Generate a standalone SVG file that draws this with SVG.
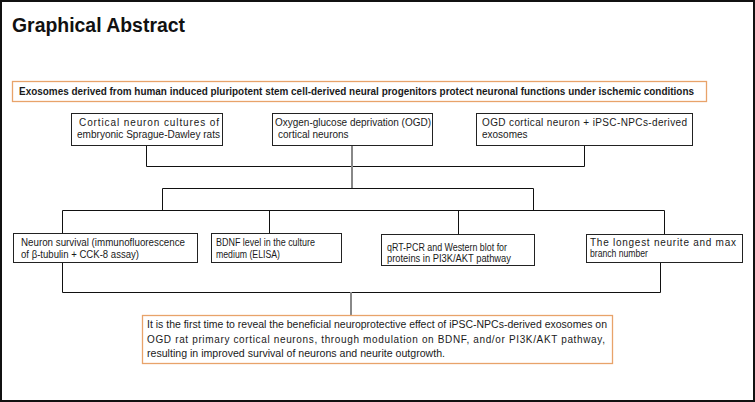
<svg xmlns="http://www.w3.org/2000/svg" width="755" height="402" viewBox="0 0 755 402">
<style>
.t{font-family:"Liberation Sans",Arial,sans-serif;font-size:10px;fill:#1a1a1a}
.b{fill:#fff;stroke:#222;stroke-width:1}
.o{fill:#fff;stroke:#e8a36a;stroke-width:1.3}
.c{fill:none;stroke:#111;stroke-width:1}
.g{fill:none;stroke:#888;stroke-width:2}
</style>
<rect x="1" y="1" width="753" height="400" fill="#fff" stroke="#111" stroke-width="2"/>
<text x="12" y="32" font-family="'Liberation Sans',Arial,sans-serif" font-size="20" font-weight="bold" fill="#111" textLength="173" lengthAdjust="spacingAndGlyphs">Graphical Abstract</text>
<g id="header">
<rect class="o" x="12.5" y="81.5" width="694" height="20"/>
<text class="t" x="19" y="95" font-weight="bold" font-size="10.5" textLength="675" lengthAdjust="spacingAndGlyphs">Exosomes derived from human induced pluripotent stem cell-derived neural progenitors protect neuronal functions under ischemic conditions</text>
</g>
<g id="connectors">
<path class="c" d="M146.5 145V166.5H584.5V145"/>
<path class="g" d="M352 145V188"/>
<path class="c" d="M162.5 210V188.5H533.5V210"/>
<path class="c" d="M62.5 233V210.5H664.5V234"/>
<path class="c" d="M269.5 210V233M458.5 210V234"/>
<path class="c" d="M62.5 262V292.5H660.5V262"/>
<path class="g" d="M351 292V315"/>
</g>
<g id="box1">
<rect class="b" x="71.5" y="113.5" width="151" height="32"/>
<text class="t" x="79" y="126" textLength="140">Cortical neuron cultures of</text>
<text class="t" x="77" y="138" textLength="143" lengthAdjust="spacingAndGlyphs">embryonic Sprague-Dawley rats</text>
</g>
<g id="box2">
<rect class="b" x="272.5" y="113.5" width="160" height="32"/>
<text class="t" x="275" y="126" textLength="156" lengthAdjust="spacingAndGlyphs">Oxygen-glucose deprivation (OGD)</text>
<text class="t" x="278" y="138">cortical neurons</text>
</g>
<g id="box3">
<rect class="b" x="476.5" y="113.5" width="216" height="32"/>
<text class="t" x="482" y="126" textLength="205">OGD cortical neuron + iPSC-NPCs-derived</text>
<text class="t" x="482" y="138">exosomes</text>
</g>
<g id="boxA">
<rect class="b" x="13.5" y="233.5" width="184" height="29"/>
<text class="t" x="21" y="246" textLength="164" lengthAdjust="spacingAndGlyphs">Neuron survival (immunofluorescence</text>
<text class="t" x="21" y="258" textLength="118" lengthAdjust="spacingAndGlyphs">of β-tubulin + CCK-8 assay)</text>
</g>
<g id="boxB">
<rect class="b" x="211.5" y="233.5" width="130" height="29"/>
<text class="t" x="216" y="246" textLength="99" lengthAdjust="spacingAndGlyphs">BDNF level in the culture</text>
<text class="t" x="216" y="258" textLength="64" lengthAdjust="spacingAndGlyphs">medium (ELISA)</text>
</g>
<g id="boxC">
<rect class="b" x="381.5" y="234.5" width="153" height="31"/>
<text class="t" x="387" y="251" textLength="120" lengthAdjust="spacingAndGlyphs">qRT-PCR and Western blot for</text>
<text class="t" x="387" y="262" textLength="124" lengthAdjust="spacingAndGlyphs">proteins in PI3K/AKT pathway</text>
</g>
<g id="boxD">
<rect class="b" x="586.5" y="234.5" width="156" height="28"/>
<text class="t" x="590" y="246" textLength="146">The longest neurite and max</text>
<text class="t" x="590" y="257" textLength="58" lengthAdjust="spacingAndGlyphs">branch number</text>
</g>
<g id="conclusion">
<rect class="o" x="142.5" y="315.5" width="470" height="48"/>
<text class="t" x="147" y="328" textLength="460" lengthAdjust="spacingAndGlyphs">It is the first time to reveal the beneficial neuroprotective effect of iPSC-NPCs-derived exosomes on</text>
<text class="t" x="147" y="343" textLength="458">OGD rat primary cortical neurons, through modulation on BDNF, and/or PI3K/AKT pathway,</text>
<text class="t" x="147" y="357" textLength="298" lengthAdjust="spacingAndGlyphs">resulting in improved survival of neurons and neurite outgrowth.</text>
</g>
</svg>
